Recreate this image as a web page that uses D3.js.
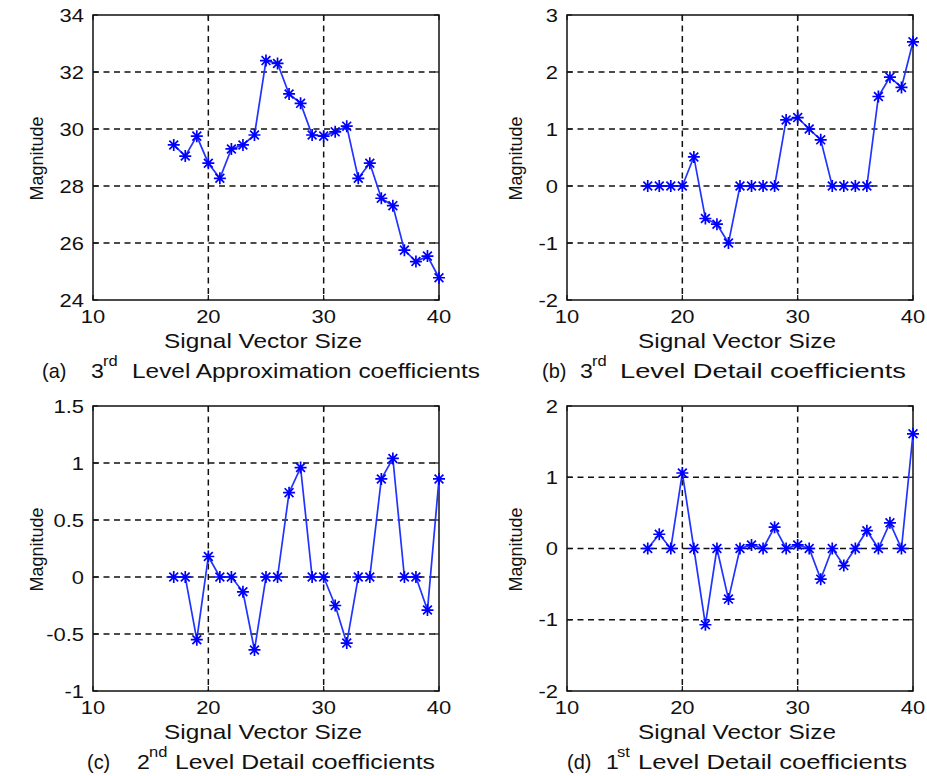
<!DOCTYPE html>
<html>
<head>
<meta charset="utf-8">
<script src="https://cdn.jsdelivr.net/npm/d3@7"></script>
<style>
  html, body { margin: 0; padding: 0; background: #fff; }
  svg { display: block; }
  text { font-family: "Liberation Sans", Arial, sans-serif; fill: #111; }
</style>
</head>
<body>
<svg id="chart" width="927" height="776"></svg>
<script>
// Sample index (signal vector size) shared by all four panels
const samples = d3.range(17, 41);

// Wavelet decomposition coefficients
const approx3 = [29.44, 29.05, 29.75, 28.8, 28.27, 29.3, 29.44, 29.79, 32.4, 32.3, 31.23, 30.9,
                 29.79, 29.75, 29.9, 30.1, 28.27, 28.8, 27.57, 27.31, 25.75, 25.35, 25.54, 24.78];
const detail3 = [0, 0, 0, 0, 0.51, -0.57, -0.67, -1.0, 0, 0, 0, 0,
                 1.16, 1.2, 1.0, 0.81, 0, 0, 0, 0, 1.57, 1.91, 1.73, 2.53];
const detail2 = [0, 0, -0.55, 0.18, 0, 0, -0.13, -0.64, 0, 0, 0.74, 0.96,
                 0, 0, -0.25, -0.58, 0, 0, 0.86, 1.04, 0, 0, -0.29, 0.86];
const detail1 = [0, 0.2, 0, 1.06, 0, -1.07, 0, -0.71, 0, 0.05, 0, 0.3,
                 0, 0.05, 0, -0.43, 0, -0.24, 0, 0.25, 0, 0.36, 0, 1.61];

// Axis ticks
const xTicks = [10, 20, 30, 40];
const yTicksA = [24, 26, 28, 30, 32, 34];
const yTicksB = [-2, -1, 0, 1, 2, 3];
const yTicksC = [-1, -0.5, 0, 0.5, 1, 1.5];
const yTicksD = [-2, -1, 0, 1, 2];

// Captions: label, ordinal, superscript, remaining text
const captions = [
  ["(a)", "3", "rd", "Level Approximation coefficients"],
  ["(b)", "3", "rd", "Level Detail coefficients"],
  ["(c)", "2", "nd", "Level Detail coefficients"],
  ["(d)", "1", "st", "Level Detail coefficients"]
];

// capX: x of label, ordinal, superscript, text start; capW: width of the text run
const panels = [
  { values: approx3, yTicks: yTicksA, box: [93, 15, 439, 300], cap: captions[0],
    capX: [42, 91, 103, 132], capW: 348, yLabelX: 43 },
  { values: detail3, yTicks: yTicksB, box: [567, 15, 913, 300], cap: captions[1],
    capX: [542, 580, 592, 620], capW: 286, yLabelX: 522 },
  { values: detail2, yTicks: yTicksC, box: [93, 406, 439, 691], cap: captions[2],
    capX: [87, 137, 149, 175], capW: 260, yLabelX: 43 },
  { values: detail1, yTicks: yTicksD, box: [567, 406, 913, 691], cap: captions[3],
    capX: [567, 606, 617, 638], capW: 269, yLabelX: 522 }
];

const svg = d3.select("#chart");

function hText(g, x, y, str, size, anchor, sx) {
  return g.append("text")
    .attr("transform", `translate(${x},${y}) scale(${sx},1)`)
    .attr("text-anchor", anchor)
    .style("font-size", size + "px")
    .text(str);
}

function fmt(v) { return String(v).replace("\u2212", "-"); }

function starPath(cx, cy) {
  const a = 6, b = 4.4;
  return `M${cx - a},${cy}L${cx + a},${cy}M${cx},${cy - a}L${cx},${cy + a}` +
         `M${cx - b},${cy - b}L${cx + b},${cy + b}M${cx - b},${cy + b}L${cx + b},${cy - b}`;
}

panels.forEach(p => {
  const [x0, y0, x1, y1] = p.box;
  const yMin = p.yTicks[0], yMax = p.yTicks[p.yTicks.length - 1];
  const x = d3.scaleLinear().domain([10, 40]).range([x0, x1]);
  const y = d3.scaleLinear().domain([yMin, yMax]).range([y1, y0]);
  const g = svg.append("g");

  // dashed grid on interior ticks
  const grid = g.append("g")
    .attr("stroke", "#111").attr("stroke-width", 1.5).attr("stroke-dasharray", "6,4.5");
  xTicks.slice(1, -1).forEach(t => {
    grid.append("line").attr("x1", x(t)).attr("x2", x(t)).attr("y1", y0).attr("y2", y1);
  });
  p.yTicks.slice(1, -1).forEach(t => {
    grid.append("line").attr("x1", x0).attr("x2", x1).attr("y1", y(t)).attr("y2", y(t));
  });

  // inward tick marks on all four sides
  const tk = g.append("g").attr("stroke", "#111").attr("stroke-width", 1.2);
  xTicks.forEach(t => {
    tk.append("line").attr("x1", x(t)).attr("x2", x(t)).attr("y1", y1).attr("y2", y1 - 5);
    tk.append("line").attr("x1", x(t)).attr("x2", x(t)).attr("y1", y0).attr("y2", y0 + 5);
  });
  p.yTicks.forEach(t => {
    tk.append("line").attr("x1", x0).attr("x2", x0 + 5).attr("y1", y(t)).attr("y2", y(t));
    tk.append("line").attr("x1", x1).attr("x2", x1 - 5).attr("y1", y(t)).attr("y2", y(t));
  });

  // axes frame
  g.append("rect")
    .attr("x", x0).attr("y", y0).attr("width", x1 - x0).attr("height", y1 - y0)
    .attr("fill", "none").attr("stroke", "#111").attr("stroke-width", 1.5);

  // tick labels
  xTicks.forEach(t => hText(g, x(t), y1 + 23, fmt(t), 18, "middle", 1.22));
  p.yTicks.forEach(t => hText(g, x0 - 9, y(t) + 6.5, fmt(t), 18, "end", 1.22));

  // axis titles
  hText(g, (x0 + x1) / 2 - 3, y1 + 48, "Signal Vector Size", 20, "middle", 1.22);
  g.append("text")
    .attr("transform", `translate(${p.yLabelX},${(y0 + y1) / 2 + 1}) rotate(-90)`)
    .attr("text-anchor", "middle")
    .style("font-size", "18px")
    .text("Magnitude");

  // series line and asterisk markers
  const pts = samples.map((s, i) => [s, p.values[i]]);
  g.append("path")
    .datum(pts)
    .attr("fill", "none").attr("stroke", "#2233ff").attr("stroke-width", 1.7)
    .attr("d", d3.line().x(d => x(d[0])).y(d => y(d[1])));
  g.append("g").selectAll("path")
    .data(pts).join("path")
    .attr("d", d => starPath(x(d[0]), y(d[1])))
    .attr("stroke", "#0000ff").attr("stroke-width", 1.7).attr("fill", "none");

  // caption below the panel
  const base = y1 + 78, supBase = base - 12;
  hText(g, p.capX[0], base, p.cap[0], 21, "start", 0.95);
  hText(g, p.capX[1], base, p.cap[1], 21, "start", 1.1);
  hText(g, p.capX[2], supBase, p.cap[2], 15, "start", 1.1);
  g.append("text")
    .attr("x", p.capX[3]).attr("y", base)
    .attr("textLength", p.capW).attr("lengthAdjust", "spacingAndGlyphs")
    .style("font-size", "21px")
    .text(p.cap[3]);
});
</script>
</body>
</html>
